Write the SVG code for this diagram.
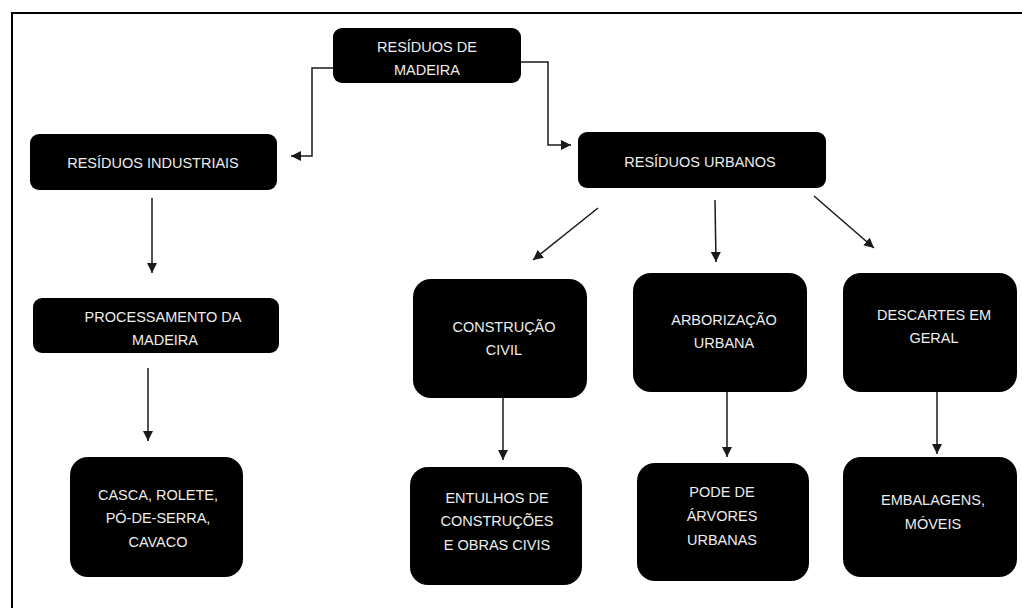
<svg xmlns="http://www.w3.org/2000/svg" width="1022" height="608" viewBox="0 0 1022 608">
<defs>
<style>
.box{fill:#000;}
.t{font-family:"Liberation Sans",Arial,sans-serif;font-size:14.5px;fill:#ededed;text-anchor:middle;}
.c{fill:none;stroke:#1a1a1a;stroke-width:1.5;}
</style>
<marker id="ah" viewBox="0 0 10 10" refX="10" refY="5" markerWidth="10" markerHeight="10" markerUnits="userSpaceOnUse" orient="auto">
<path d="M0,0 L10,5 L0,10 Z" fill="#1a1a1a"/>
</marker>
</defs>
<rect width="1022" height="608" fill="#fff"/>
<path d="M12,608 L12,13 L1022,13" fill="none" stroke="#000" stroke-width="2"/>

<g id="connectors">
<path class="c" d="M333,68 L312,68 L312,156 L291,156" marker-end="url(#ah)"/>
<path class="c" d="M521,62 L548,62 L548,145 L571,145" marker-end="url(#ah)"/>
<path class="c" d="M152,198 L152,273" marker-end="url(#ah)"/>
<path class="c" d="M148,368 L148,441" marker-end="url(#ah)"/>
<path class="c" d="M598,208 L533,260" marker-end="url(#ah)"/>
<path class="c" d="M715,200 L716,262" marker-end="url(#ah)"/>
<path class="c" d="M814,196 L874,248" marker-end="url(#ah)"/>
<path class="c" d="M503,398 L503,460" marker-end="url(#ah)"/>
<path class="c" d="M727,392 L727,457" marker-end="url(#ah)"/>
<path class="c" d="M937,392 L937,454" marker-end="url(#ah)"/>
</g>

<g id="n-madeira">
<rect class="box" x="333" y="28" width="188" height="55" rx="9"/>
<text class="t" x="427" y="52">RESÍDUOS DE</text>
<text class="t" x="427" y="75">MADEIRA</text>
</g>

<g id="n-industriais">
<rect class="box" x="30" y="134" width="247" height="56" rx="9"/>
<text class="t" x="153" y="168">RESÍDUOS INDUSTRIAIS</text>
</g>

<g id="n-processamento">
<rect class="box" x="33" y="298" width="246" height="55" rx="9"/>
<text class="t" x="163" y="322">PROCESSAMENTO DA</text>
<text class="t" x="165" y="345">MADEIRA</text>
</g>

<g id="n-casca">
<rect class="box" x="70" y="457" width="173" height="120" rx="18"/>
<text class="t" x="158" y="500">CASCA, ROLETE,</text>
<text class="t" x="158" y="523">PÓ-DE-SERRA,</text>
<text class="t" x="158" y="547">CAVACO</text>
</g>

<g id="n-urbanos">
<rect class="box" x="578" y="132" width="248" height="56" rx="9"/>
<text class="t" x="700" y="167">RESÍDUOS URBANOS</text>
</g>

<g id="n-construcao">
<rect class="box" x="413" y="279" width="174" height="119" rx="18"/>
<text class="t" x="504" y="332">CONSTRUÇÃO</text>
<text class="t" x="504" y="355">CIVIL</text>
</g>

<g id="n-arborizacao">
<rect class="box" x="633" y="273" width="174" height="119" rx="18"/>
<text class="t" x="724" y="325">ARBORIZAÇÃO</text>
<text class="t" x="724" y="348">URBANA</text>
</g>

<g id="n-descartes">
<rect class="box" x="843" y="273" width="174" height="119" rx="18"/>
<text class="t" x="934" y="320">DESCARTES EM</text>
<text class="t" x="934" y="343">GERAL</text>
</g>

<g id="n-entulhos">
<rect class="box" x="410" y="467" width="172" height="118" rx="18"/>
<text class="t" x="497" y="503">ENTULHOS DE</text>
<text class="t" x="497" y="526">CONSTRUÇÕES</text>
<text class="t" x="497" y="550">E OBRAS CIVIS</text>
</g>

<g id="n-pode">
<rect class="box" x="637" y="463" width="172" height="118" rx="18"/>
<text class="t" x="722" y="497">PODE DE</text>
<text class="t" x="722" y="521">ÁRVORES</text>
<text class="t" x="722" y="545">URBANAS</text>
</g>

<g id="n-embalagens">
<rect class="box" x="843" y="457" width="174" height="120" rx="18"/>
<text class="t" x="933" y="505">EMBALAGENS,</text>
<text class="t" x="933" y="529">MÓVEIS</text>
</g>
</svg>
